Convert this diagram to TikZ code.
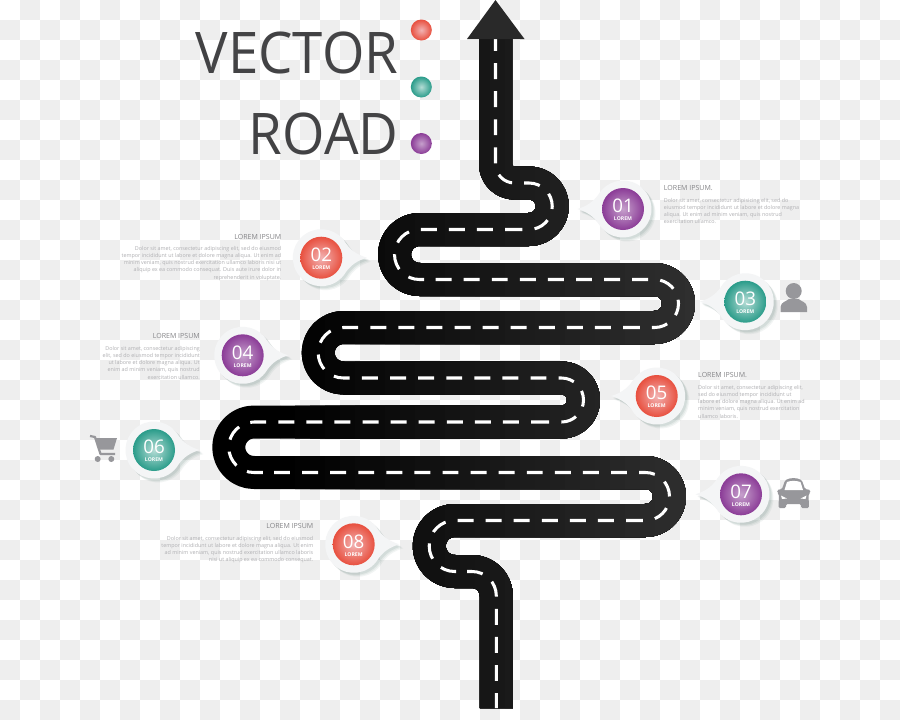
\documentclass[tikz,border=0pt]{standalone}
\usepackage{fontspec}
\setmainfont{Open Sans}
\newfontfamily\titlefont[FakeStretch=0.95]{Open Sans}
\definecolor{titlegrey}{HTML}{434345}
\definecolor{headgrey}{HTML}{858588}
\definecolor{bodygrey}{HTML}{B0B0B3}
\definecolor{icongrey}{HTML}{97979B}
\definecolor{pinfill}{HTML}{F4F5F6}
\definecolor{checkgrey}{HTML}{EEEEEE}
\definecolor{redrim}{HTML}{E8503F}
\definecolor{redmid}{HTML}{F2B3B3}
\definecolor{tealrim}{HTML}{2A9C8A}
\definecolor{tealmid}{HTML}{B4DCD5}
\definecolor{plumrim}{HTML}{8B3C97}
\definecolor{plummid}{HTML}{C6A0CC}
\tikzset{
  roadline/.style={line width=0.99cm,line cap=butt,line join=round},
  roadmark/.style={white,line width=2.6pt,dash pattern=on 13.6pt off 10.37pt},
  ball/.style={circle,inner sep=0pt,minimum size=#1*0.03cm,shade},
  redball/.style={inner color=redmid,outer color=redrim},
  tealball/.style={inner color=tealmid,outer color=tealrim},
  plumball/.style={inner color=plummid,outer color=plumrim},
  numtext/.style={white,font=\fontsize{16}{16}\selectfont,inner sep=0pt},
  subtext/.style={white,font=\bfseries\fontsize{4.4}{5}\selectfont,inner sep=0pt},
  headtext/.style={headgrey,inner sep=0pt,font=\fontsize{6}{7}\selectfont},
  bodytext/.style={bodygrey,inner sep=0pt,font=\fontsize{4.6}{6.15}\selectfont},
  titletext/.style={titlegrey,inner sep=0pt,font=\titlefont\fontsize{49}{49}\selectfont},
}
% pin with its tail: name, x, y, side of tail (1 or -1), ball colour, number
\newcommand{\pinball}[6]{
  \foreach \s/\o in {4/0.05,3/0.06,2/0.08}
    \fill [black!60!tealrim,opacity=\o,shift={(#2+\s,#3-\s)},xscale=#4]
      (45.5,0) .. controls (36,3) and (30,7) .. (30:28.5) arc (30:330:28.5) .. controls (30,-7) and (36,-3) .. (45.5,0);
  \fill [pinfill,shift={(#2,#3)},xscale=#4]
    (45.5,0) .. controls (36,3) and (30,7) .. (30:28.5) arc (30:330:28.5) .. controls (30,-7) and (36,-3) .. (45.5,0);
  \node [ball=42,#5] (#1) at (#2,#3) {};
  \node [numtext] (#1num) at ([yshift=0.085cm]#1.center) {#6};
  \node [subtext] (#1sub) at ([yshift=-0.3cm]#1.center) {LOREM};
}
\def\roadpath{(495.5,-39) -- (495.5,-164) arc (180:270:19) -- (529,-183) arc (90:-90:23.25) -- (419.5,-229.5) arc (90:270:25) -- (654.5,-279.5) arc (90:-90:24) -- (343.4,-327.5) arc (90:270:25.25) -- (561.5,-378) arc (90:-90:22) -- (254,-422) arc (90:270:25.25) -- (645.5,-472.5) arc (90:-90:24) -- (454.7,-520.5) arc (90:270:25.5) -- (472,-571.5) arc (90:0:24.3) -- (496.3,-708)}
\begin{document}
\begin{tikzpicture}[x=0.03cm,y=0.03cm]
    \useasboundingbox (0,-720) rectangle (900,0);
    % checks behind everything
    \fill [white] (0,-720) rectangle (900,0);
    \foreach \i in {0,...,44}
      \foreach \j in {0,...,35} {
        \pgfmathparse{int(mod(\i+\j,2))}
        \ifnum\pgfmathresult=1
          \fill [checkgrey] (\i*20,-\j*20) rectangle (\i*20+20,-\j*20-20);
        \fi
      }
    % road, a little lighter to the right
    \foreach \i in {0,...,28} {
      \pgfmathsetmacro{\xleft}{280+\i*15}
      \pgfmathsetmacro{\lift}{\i*15/420*19}
      \begin{scope}
        \clip (\xleft,-720) rectangle (720,0);
        \draw [roadline,color=white!\lift!black] \roadpath;
      \end{scope}
    }
    \begin{scope}
      \clip (0,-720) rectangle (280,0);
      \draw [roadline,black] \roadpath;
    \end{scope}
    % road marks, one piece for each bend so that they stay in step
    \draw [roadmark,dash phase=3.4pt] (495.5,-39) -- (495.5,-164) arc (180:270:19) -- (529,-183) arc (90:-90:23.25) -- (521,-229.5);
    \draw [roadmark] (521,-229.5) -- (419.5,-229.5) arc (90:270:25) -- (435.6,-279.5);
    \draw [roadmark] (435.6,-279.5) -- (654.5,-279.5) arc (90:-90:24) -- (639,-327.5);
    \draw [roadmark] (639,-327.5) -- (343.4,-327.5) arc (90:270:25.25) -- (362,-378);
    \draw [roadmark] (362,-378) -- (561.5,-378) arc (90:-90:22) -- (547,-422);
    \draw [roadmark] (547,-422) -- (254,-422) arc (90:270:25.25) -- (274,-472.5);
    \draw [roadmark] (274,-472.5) -- (645.5,-472.5) arc (90:-90:24) -- (642,-520.5);
    \draw [roadmark] (642,-520.5) -- (454.7,-520.5) arc (90:270:25.5) -- (467,-571.5);
    \draw [roadmark] (467,-571.5) -- (472,-571.5) arc (90:0:24.3) -- (496.3,-708);
    \fill [black!84!white] (495.5,0) -- (524.5,-39) -- (467,-39) -- cycle;
    % title
    \node [titletext,anchor=base east] (vector) at (398.5,-73) {VECTOR};
    \node [titletext,anchor=base east] (road) at (398.5,-154) {ROAD};
    \node [ball=21,redball] (dotred) at (421.3,-30) {};
    \node [ball=21,tealball] (dotteal) at (421.3,-87) {};
    \node [ball=21,plumball] (dotplum) at (421.3,-143.5) {};
    % pins
    \pinball{p01}{623}{-209}{-1}{plumball}{01}
    \pinball{p02}{321.3}{-257.7}{1}{redball}{02}
    \pinball{p03}{745.3}{-301.7}{-1}{tealball}{03}
    \pinball{p04}{242.7}{-355.3}{1}{plumball}{04}
    \pinball{p05}{656.7}{-396}{-1}{redball}{05}
    \pinball{p06}{154}{-450}{1}{tealball}{06}
    \pinball{p07}{741}{-494.3}{-1}{plumball}{07}
    \pinball{p08}{353.7}{-544.3}{1}{redball}{08}
    % texts
    \node [headtext,anchor=west] (h01) at (663.7,-188) {LOREM IPSUM.};
    \node [bodytext,anchor=north west,align=left] (b01) at (663.7,-198) {Dolor sit amet, consectetur adipisicing elit, sed do\\eiusmod tempor incididunt ut labore et dolore magna\\aliqua. Ut enim ad minim veniam, quis nostrud\\exercitation ullamco.};
    \node [headtext,anchor=east] (h02) at (281.5,-237) {LOREM IPSUM};
    \node [bodytext,anchor=north east,align=right] (b02) at (281.5,-246) {Dolor sit amet, consectetur adipiscing elit, sed do eiusmod\\tempor incididunt ut labore et dolore magna aliqua. Ut enim ad\\minim veniam, quis nostrud exercitation ullamco laboris nisi ut\\aliquip ex ea commodo consequat. Duis aute irure dolor in\\reprehenderit in voluptate.};
    \node [headtext,anchor=east] (h04) at (200,-336) {LOREM IPSUM};
    \node [bodytext,anchor=north east,align=right] (b04) at (200,-346) {Dolor sit amet, consectetur adipiscing\\elit, sed do eiusmod tempor incididunt\\ut labore et dolore magna aliqua. Ut\\enim ad minim veniam, quis nostrud\\exercitation ullamco.};
    \node [headtext,anchor=west] (h05) at (698,-375) {LOREM IPSUM.};
    \node [bodytext,anchor=north west,align=left] (b05) at (698,-385) {Dolor sit amet, consectetur adipiscing elit,\\sed do eiusmod tempor incididunt ut\\labore et dolore magna aliqua. Ut enim ad\\minim veniam, quis nostrud exercitation\\ullamco laboris.};
    \node [headtext,anchor=east] (h08) at (313.5,-526) {LOREM IPSUM};
    \node [bodytext,anchor=north east,align=right] (b08) at (313.5,-536) {Dolor sit amet, consectetur adipiscing elit, sed do eiusmod\\tempor incididunt ut labore et dolore magna aliqua. Ut enim\\ad minim veniam, quis nostrud exercitation ullamco laboris\\nisi ut aliquip ex ea commodo consequat.};
    % person
    \fill [icongrey] (793.7,-291) circle (8);
    \fill [icongrey] (780.5,-312) -- (780.5,-307) .. controls (781,-302) and (786,-301.5) .. (789,-299) -- (798.5,-299) .. controls (801.5,-301.5) and (806.5,-302) .. (807,-307) -- (807,-312) -- cycle;
    % cart
    \draw [icongrey,line width=1.9pt,line join=round] (90,-436) -- (95,-437) -- (100.5,-454) -- (115,-454);
    \fill [icongrey] (95.5,-438) -- (117,-438) -- (113.5,-449.5) -- (99,-449.5) -- cycle;
    \fill [icongrey] (97.7,-459) circle (3);
    \fill [icongrey] (111.3,-459) circle (3);
    % car
    \fill [icongrey,rounded corners=1.2pt] (777,-490) -- (782,-489) -- (785,-480.5) .. controls (790,-477.5) and (797,-477.5) .. (802,-480.5) -- (805,-489) -- (810.5,-490) -- (810,-493) -- (808.5,-494) -- (809,-508) -- (801,-508) -- (801,-504) -- (786,-504) -- (786,-508) -- (778.5,-508) -- (779,-494) -- (777.5,-493) -- cycle;
    \fill [white] (784.5,-490) -- (787,-482) .. controls (791,-480.5) and (796,-480.5) .. (800.5,-482) -- (803,-490) -- cycle;
    \fill [white] (781,-495.5) -- (787,-498.5) -- (782,-499) -- cycle;
    \fill [white] (806.5,-495.5) -- (800.5,-498.5) -- (805.5,-499) -- cycle;
\end{tikzpicture}
\end{document}
